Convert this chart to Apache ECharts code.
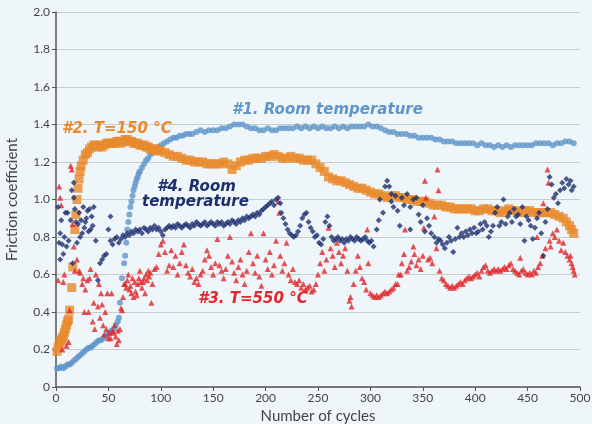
<!DOCTYPE html>
<html><head><meta charset="utf-8">
<script src="https://cdn.jsdelivr.net/npm/echarts@6/dist/echarts.min.js"></script>
<style>html,body{margin:0;padding:0;background:#eff6fa;}#c{width:592px;height:424px;}</style>
</head><body><div id="c"></div>
<script>
const xTicks = [0,50,100,150,200,250,300,350,400,450,500];
const yTicks = [0,0.2,0.4,0.6,0.8,1.0,1.2,1.4,1.6,1.8,2.0];
const seriesNames = ['#1. Room temperature','#2. T=150 °C','#3. T=550 °C','#4. Room temperature'];

const run1RoomTemp = [[1,0.10],[3,0.10],[5,0.11],[7,0.10],[9,0.11],[11,0.12],[13,0.12],[15,0.13],[17,0.14],[19,0.15],[21,0.16],[23,0.17],[25,0.18],[27,0.19],[29,0.20],[31,0.21],[33,0.21],[35,0.22],[37,0.23],[39,0.24],[41,0.25],[43,0.25],[45,0.26],[47,0.27],[49,0.28],[51,0.29],[53,0.30],[55,0.31],[57,0.33],[59,0.35],[60,0.37],
[61,0.45],[63,0.58],[65,0.66],[66,0.70],[67,0.77],
[68,0.84],[69,0.88],[70,0.92],[71,0.96],[72,0.99],[73,1.02],[74,1.05],[75,1.07],[76,1.09],[77,1.11],[78,1.12],[79,1.14],[80,1.15],[82,1.17],[84,1.19],[86,1.21],[88,1.22],[90,1.24],[92,1.25],[94,1.26],[96,1.27],[98,1.28],[100,1.29],[103,1.30],[106,1.31],[109,1.32],[112,1.33],[115,1.33],[118,1.34],[121,1.34],[124,1.35],[127,1.35],[130,1.35],[134,1.36],[138,1.37],[142,1.36],[146,1.37],[150,1.37],[154,1.37],[158,1.38],[162,1.38],[166,1.39],[170,1.40],[174,1.40],[178,1.40],[182,1.39],[186,1.38],[190,1.38],[194,1.37],[198,1.37],[202,1.38],[206,1.37],[210,1.37],[214,1.38],[218,1.38],[222,1.38],[226,1.38],[230,1.39],[234,1.38],[238,1.39],[242,1.38],[246,1.39],[250,1.38],[254,1.39],[258,1.38],[262,1.38],[266,1.39],[270,1.38],[274,1.39],[278,1.38],[282,1.39],[286,1.39],[290,1.39],[294,1.39],[298,1.40],[302,1.39],[306,1.39],[310,1.38],[314,1.37],[318,1.36],[322,1.36],[326,1.35],[330,1.35],[334,1.35],[338,1.34],[342,1.34],[346,1.33],[350,1.33],[354,1.33],[358,1.33],[362,1.32],[366,1.32],[370,1.31],[374,1.31],[378,1.31],[382,1.30],[386,1.30],[390,1.30],[394,1.30],[398,1.30],[402,1.29],[406,1.30],[410,1.29],[414,1.29],[418,1.28],[422,1.29],[426,1.28],[430,1.29],[434,1.28],[438,1.29],[442,1.29],[446,1.29],[450,1.29],[454,1.29],[458,1.30],[462,1.30],[466,1.30],[470,1.30],[474,1.29],[478,1.30],[482,1.30],[486,1.31],[490,1.31],[494,1.30]];

const run2T150 = [[1,0.19],[2,0.21],[3,0.23],[4,0.24],[5,0.25],[6,0.26],[7,0.27],[8,0.29],[9,0.31],[10,0.33],[11,0.35],[12,0.36],[13,0.41],[15,0.53],[16,0.64],[18,0.84],[19,0.92],[20,1.00],[21,1.06],[22,1.11],[23,1.15],[24,1.18],[26,1.21],[28,1.24],[30,1.25],[32,1.27],[34,1.28],[36,1.29],[38,1.29],[40,1.28],[42,1.29],[44,1.28],[46,1.29],[48,1.30],[50,1.30],[52,1.30],[54,1.30],[56,1.30],[58,1.31],[60,1.31],[62,1.30],[64,1.31],[66,1.32],[68,1.32],[70,1.31],[72,1.31],[74,1.30],[76,1.30],[78,1.30],[80,1.29],[82,1.29],[84,1.29],[86,1.28],[88,1.28],[90,1.27],[92,1.27],[94,1.27],[96,1.26],[98,1.26],[100,1.26],[104,1.25],[108,1.24],[112,1.23],[116,1.23],[120,1.22],[124,1.21],[128,1.21],[132,1.20],[136,1.20],[140,1.20],[144,1.19],[148,1.19],[152,1.19],[156,1.19],[160,1.20],[164,1.19],[168,1.16],[172,1.18],[176,1.20],[180,1.21],[184,1.21],[188,1.22],[192,1.22],[196,1.22],[200,1.23],[204,1.23],[208,1.24],[212,1.23],[216,1.22],[220,1.22],[224,1.23],[228,1.22],[232,1.22],[236,1.21],[240,1.21],[244,1.21],[248,1.19],[252,1.17],[256,1.15],[260,1.12],[264,1.11],[268,1.10],[272,1.10],[276,1.09],[280,1.08],[284,1.07],[288,1.06],[292,1.06],[296,1.05],[300,1.04],[304,1.03],[308,1.03],[312,1.02],[316,1.01],[320,1.02],[324,1.02],[328,1.01],[332,1.01],[336,1.00],[340,1.00],[344,0.99],[348,0.99],[352,0.99],[356,0.98],[360,0.97],[364,0.97],[368,0.97],[372,0.96],[376,0.96],[380,0.95],[384,0.95],[388,0.95],[392,0.95],[396,0.95],[400,0.94],[404,0.94],[408,0.95],[412,0.95],[416,0.94],[420,0.94],[424,0.93],[428,0.94],[432,0.95],[436,0.94],[440,0.94],[444,0.93],[448,0.94],[452,0.94],[456,0.93],[460,0.93],[464,0.93],[468,0.93],[472,0.93],[476,0.92],[480,0.91],[484,0.90],[487,0.88],[490,0.86],[492,0.84],[494,0.82]];

const run3T550 = [[2,0.57],[3,1.07],[4,1.01],[5,0.97],[6,0.20],[7,0.56],[8,0.60],[10,0.22],[12,0.24],[13,0.41],[14,1.18],[15,1.16],[16,0.87],[17,0.75],[18,0.62],[20,0.68],[22,0.62],[23,0.61],[25,0.55],[26,0.58],[27,0.40],[28,0.52],[30,0.57],[31,0.40],[32,0.58],[33,0.63],[35,0.35],[36,0.45],[37,0.31],[38,0.60],[40,0.43],[41,0.55],[42,0.37],[43,0.50],[44,0.44],[45,0.33],[46,0.28],[47,0.40],[48,0.31],[49,0.50],[50,0.26],[51,0.29],[52,0.26],[53,0.50],[54,0.30],[55,0.29],[56,0.33],[57,0.27],[58,0.23],[59,0.30],[60,0.25],[61,0.31],[62,0.42],[63,0.41],[64,0.48],[65,0.55],[66,0.55],[67,0.53],[68,0.57],[69,0.60],[70,0.52],[71,0.54],[72,0.50],[73,0.58],[74,0.48],[75,0.56],[76,0.51],[77,0.49],[78,0.55],[79,0.58],[80,0.62],[81,0.56],[82,0.53],[83,0.56],[84,0.58],[85,0.50],[86,0.60],[87,0.57],[88,0.62],[89,0.59],[90,0.61],[91,0.45],[92,0.55],[94,0.63],[96,0.64],[98,0.71],[100,0.76],[102,0.78],[104,0.72],[106,0.62],[108,0.65],[110,0.73],[112,0.64],[114,0.70],[116,0.60],[118,0.66],[120,0.72],[122,0.76],[124,0.65],[126,0.61],[128,0.59],[130,0.63],[132,0.56],[134,0.58],[136,0.55],[138,0.60],[140,0.62],[142,0.68],[144,0.73],[146,0.70],[148,0.64],[150,0.60],[152,0.66],[154,0.79],[156,0.65],[158,0.62],[160,0.58],[162,0.63],[164,0.70],[166,0.80],[168,0.67],[170,0.61],[172,0.57],[174,0.64],[176,0.68],[178,0.60],[180,0.55],[182,0.62],[184,0.72],[186,0.82],[188,0.66],[190,0.61],[192,0.70],[194,0.59],[196,0.54],[198,0.82],[200,0.68],[202,0.63],[204,0.72],[206,0.60],[208,0.65],[210,0.78],[212,0.99],[213,0.93],[214,0.70],[216,0.62],[218,0.66],[220,0.77],[222,0.60],[224,0.57],[226,0.63],[228,0.56],[230,0.55],[232,0.57],[234,0.53],[236,0.55],[238,0.52],[240,0.53],[242,0.54],[244,0.51],[246,0.52],[248,0.55],[250,0.60],[252,0.66],[254,0.72],[256,0.62],[258,0.68],[260,0.85],[262,0.74],[264,0.70],[266,0.64],[268,0.77],[270,0.72],[272,0.66],[274,0.70],[276,0.74],[278,0.62],[280,0.46],[281,0.48],[282,0.43],[284,0.55],[286,0.62],[288,0.70],[290,0.64],[292,0.58],[294,0.56],[296,0.52],[297,0.84],[298,0.66],[300,0.50],[302,0.49],[304,0.48],[306,0.49],[308,0.48],[310,0.49],[312,0.50],[314,0.51],[316,0.50],[318,0.51],[320,0.52],[322,0.53],[324,0.55],[326,0.55],[327,0.60],[329,0.60],[330,0.66],[332,0.71],[333,0.84],[335,0.62],[337,0.64],[339,0.67],[341,0.75],[342,0.71],[344,0.65],[346,0.68],[348,0.63],[350,0.70],[351,0.85],[352,1.10],[353,1.01],[355,0.68],[357,0.69],[359,0.66],[361,0.91],[363,0.74],[364,1.16],[365,1.05],[366,0.62],[368,0.58],[370,0.57],[372,0.55],[374,0.54],[376,0.53],[378,0.54],[380,0.53],[382,0.54],[384,0.55],[386,0.56],[388,0.55],[390,0.57],[392,0.58],[394,0.59],[396,0.58],[398,0.59],[400,0.60],[402,0.61],[404,0.59],[406,0.62],[408,0.64],[410,0.65],[412,0.62],[414,0.61],[416,0.62],[418,0.63],[420,0.62],[422,0.63],[424,0.62],[426,0.63],[428,0.64],[430,0.63],[432,0.65],[434,0.66],[436,0.63],[438,0.62],[440,0.61],[442,0.60],[443,0.69],[444,0.62],[446,0.63],[448,0.61],[450,0.60],[452,0.61],[454,0.60],[456,0.62],[458,0.61],[459,0.80],[460,0.64],[462,0.66],[464,0.70],[465,0.98],[467,0.74],[469,1.16],[470,1.09],[471,0.78],[472,0.75],[474,0.82],[476,0.80],[478,0.84],[480,0.78],[482,0.73],[484,0.77],[486,0.72],[488,0.70],[490,0.68],[491,0.70],[492,0.66],[493,0.64],[494,0.62],[495,0.60]];

const run4RoomTemp = [[2,0.96],[3,0.77],[4,0.82],[4,0.68],[5,0.89],[6,0.76],[7,0.71],[8,0.80],[9,0.93],[10,0.75],[11,0.93],[12,0.78],[14,0.89],[15,1.05],[16,0.66],[17,1.09],[17,1.01],[18,0.95],[19,0.88],[20,0.77],[21,0.87],[22,0.93],[23,0.80],[24,0.89],[25,0.82],[26,0.96],[27,0.85],[28,0.88],[29,0.90],[30,0.94],[31,0.83],[32,0.95],[33,0.84],[34,0.91],[35,0.86],[36,0.96],[38,0.78],[40,0.57],[42,0.66],[44,0.68],[46,0.70],[48,0.71],[50,0.84],[52,0.91],[52,0.78],[54,0.76],[56,0.79],[58,0.80],
[60,0.77],[62,0.79],[64,0.81],[66,0.80],[68,0.82],[70,0.81],[72,0.83],[74,0.82],[76,0.84],[78,0.83],[80,0.84],[82,0.82],[84,0.85],[86,0.84],[88,0.83],[90,0.85],[92,0.84],[94,0.86],[96,0.84],[98,0.85],[100,0.83],[102,0.81],[104,0.84],[106,0.85],[108,0.86],[110,0.85],[112,0.86],[114,0.85],[116,0.87],[118,0.86],[120,0.85],[122,0.86],[124,0.87],[126,0.86],[128,0.85],[130,0.87],[132,0.86],[134,0.88],[136,0.87],[138,0.86],[140,0.87],[142,0.88],[144,0.86],[146,0.87],[148,0.88],[150,0.87],[152,0.86],[154,0.88],[156,0.87],[158,0.88],[160,0.86],[162,0.87],[164,0.88],[166,0.87],[168,0.89],[170,0.88],[172,0.87],[174,0.89],[176,0.88],[178,0.90],[180,0.89],[182,0.91],[184,0.90],[186,0.91],[188,0.92],[190,0.91],[192,0.93],[194,0.92],[196,0.94],[198,0.95],[200,0.96],[202,0.97],[204,0.98],[206,0.99],[208,0.97],[210,1.00],[212,1.01],[214,0.98],[215,0.93],[217,0.90],[219,0.87],[221,0.84],[223,0.82],[225,0.81],[227,0.80],[229,0.81],[231,0.83],[233,0.86],[235,0.90],[237,0.92],[239,0.93],[241,0.88],[243,0.85],[245,0.83],[247,0.80],[249,0.81],[251,0.77],[253,0.76],[255,0.79],[257,0.88],[259,0.91],[261,0.86],[263,0.80],[265,0.78],[267,0.79],[269,0.80],[271,0.78],[273,0.79],[275,0.77],[277,0.79],[279,0.78],[281,0.80],[283,0.79],[285,0.78],[287,0.80],[289,0.79],[291,0.78],[293,0.79],[295,0.80],[297,0.78],[299,0.77],[301,0.78],[303,0.75],
[306,0.84],[308,0.89],[309,1.00],[312,0.93],[314,1.07],[316,1.10],[318,1.07],[320,1.03],[320,0.99],[322,0.96],[324,1.02],[326,0.94],[328,0.86],[330,1.01],[332,0.97],[335,1.03],[338,0.96],[338,0.84],[341,1.00],[344,1.01],[346,0.92],[348,0.88],[350,0.97],[352,0.83],[354,0.90],[356,0.86],[358,0.82],[361,0.80],[363,0.77],[365,0.79],[367,0.78],[369,0.76],[371,0.74],[373,0.77],[375,0.80],[377,0.78],[379,0.72],[381,0.79],[383,0.85],[385,0.80],[387,0.82],[389,0.80],[391,0.83],[393,0.81],[395,0.84],[397,0.82],[399,0.85],[401,0.82],[403,0.83],[405,0.87],[407,0.84],[409,0.88],[411,0.86],[413,0.80],[415,0.83],[417,0.86],[419,0.93],[421,0.96],[423,0.86],[425,0.88],[427,1.00],[429,0.87],[431,0.91],[433,0.93],[435,0.88],[437,0.95],[439,0.91],[441,0.92],[443,0.87],[445,0.96],[447,0.78],[449,0.91],[451,0.89],[453,0.86],[455,0.79],[457,0.85],[459,0.90],[461,0.93],[463,0.82],[465,0.70],[467,0.88],[469,0.95],[471,1.12],[473,1.08],[475,1.01],[477,1.03],[479,0.98],[481,1.05],[483,1.09],[485,1.06],[487,1.11],[489,1.08],[491,1.10],[492,1.05],[494,1.07]];

const chart = echarts.init(document.getElementById('c'), null, {renderer:'canvas'});
const FONT = 'Lato';
const annoFont = 'bold italic 15px "DejaVu Sans"';
chart.setOption({
  backgroundColor: '#eff6fa',
  animation: false,
  grid: {left: 56, right: 12, top: 12, bottom: 37, containLabel: false, outerBoundsMode: 'none'},
  xAxis: {
    type: 'value', min: xTicks[0], max: xTicks[xTicks.length-1], interval: 50,
    name: 'Number of cycles', nameLocation: 'middle', nameGap: 22,
    nameTextStyle: {fontFamily: FONT, fontSize: 15, color: '#444'},
    axisLine: {lineStyle: {color: '#555', width: 1.5}},
    axisTick: {show: true, inside: false, length: 4, lineStyle: {color: '#555'}},
    axisLabel: {fontFamily: FONT, fontSize: 12, color: '#444', margin: 5},
    splitLine: {show: false}
  },
  yAxis: {
    type: 'value', min: yTicks[0], max: yTicks[yTicks.length-1], interval: 0.2,
    name: 'Friction coefficient', nameLocation: 'middle', nameGap: 36,
    nameTextStyle: {fontFamily: FONT, fontSize: 15, color: '#444'},
    axisLine: {show: true, lineStyle: {color: '#555', width: 1.5}},
    axisTick: {show: true, inside: false, length: 4, lineStyle: {color: '#555'}},
    axisLabel: {fontFamily: FONT, fontSize: 12, color: '#444', margin: 6,
      formatter: v => v === 0 ? '0' : v.toFixed(1)},
    splitLine: {show: true, lineStyle: {color: '#c8cdd0', width: 1}}
  },
  series: [
    {name: seriesNames[0], type: 'scatter', data: run1RoomTemp, symbol: 'circle', symbolSize: 6,
      itemStyle: {color: '#5f95cb'}, z: 2},
    {name: seriesNames[1], type: 'scatter', data: run2T150, symbol: 'rect', symbolSize: 9,
      itemStyle: {color: '#e8892c'}, z: 3},
    {name: seriesNames[2], type: 'scatter', data: run3T550, symbol: 'triangle', symbolSize: 6,
      itemStyle: {color: '#e0272b'}, z: 4},
    {name: seriesNames[3], type: 'scatter', data: run4RoomTemp, symbol: 'diamond', symbolSize: 6,
      itemStyle: {color: '#1d2f6f'}, z: 5}
  ],
  graphic: [
    {type: 'text', left: 232, top: 103, z: 10, style: {text: seriesNames[0], font: annoFont, fill: '#5f95cb'}},
    {type: 'text', left: 62, top: 122, z: 10, style: {text: seriesNames[1], font: annoFont, fill: '#e8892c'}},
    {type: 'text', left: 157, top: 180, z: 10, style: {text: '#4. Room', font: annoFont, fill: '#1d2f6f'}},
    {type: 'text', left: 142, top: 195, z: 10, style: {text: 'temperature', font: annoFont, fill: '#1d2f6f'}},
    {type: 'text', left: 198, top: 292, z: 10, style: {text: seriesNames[2], font: annoFont, fill: '#e0272b'}}
  ]
});
</script></body></html>
